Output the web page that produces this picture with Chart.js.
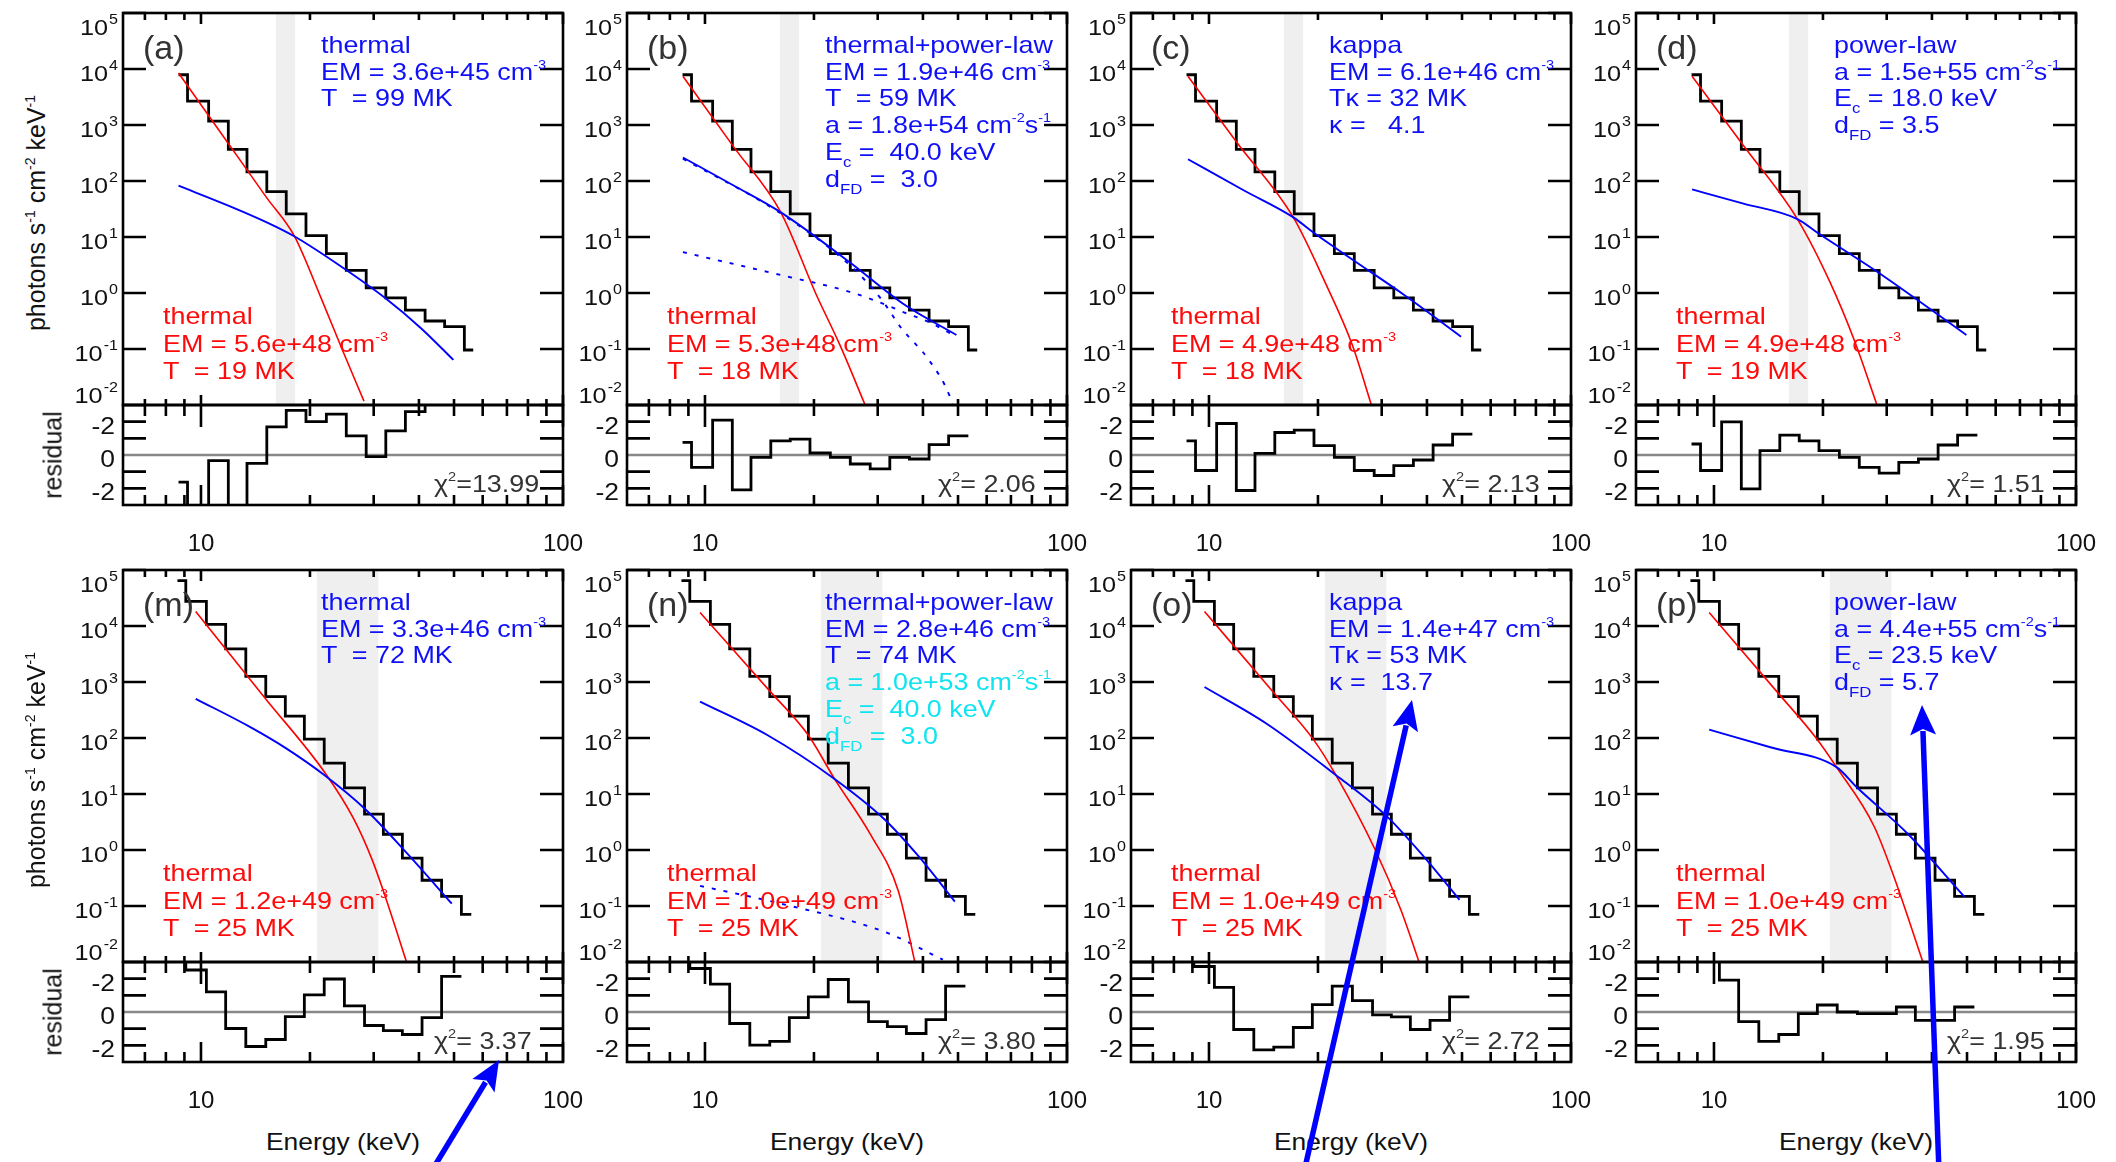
<!DOCTYPE html>
<html>
<head>
<meta charset="utf-8">
<title>Spectral fits</title>
<script src="https://cdn.jsdelivr.net/npm/chart.js@4.4.1/dist/chart.umd.min.js"></script>
<style>
  html, body { margin: 0; padding: 0; background: #fff; }
  #fig { position: relative; width: 2116px; height: 1162px; overflow: hidden; background: #fff;
         font-family: "Liberation Sans", Arial, Helvetica, sans-serif; }
  #fig canvas { position: absolute; }
  .txt { position: absolute; white-space: pre; font-size: 24px; line-height: 27px; transform-origin: 0 0; transform: scaleX(1.12); }
  .sp { font-size: 13px; position: relative; top: -11px; line-height: 0; }
  .sb { font-size: 15px; position: relative; top: 7px; line-height: 0; }
  .lbl { position: absolute; font-size: 34px; line-height: 33px; color: #333; }
  .rot { position: absolute; white-space: pre; font-size: 25px; line-height: 27px; transform: translate(-50%, -50%) rotate(-90deg); }
  .rot .sp { top: -10px; font-size: 14px; }
  .xt { position: absolute; white-space: pre; font-size: 24px; line-height: 27px; transform-origin: 0 0; transform: scaleX(1.1) translateX(-50%); }
  svg { position: absolute; left: 0; top: 0; }
</style>
</head>
<body>
<div id="fig"></div>
<script>
// ---- axes ----
const X_MIN = 6.09, X_MAX = 100;
const X_MAJOR = [10, 100];
const X_MINOR = [7, 8, 9, 20, 30, 40, 50, 60, 70, 80, 90];
const X_LABEL_VALS = [10, 100];
const X_LABELS = ['10', '100'];
const Y_DECADES = [1e-2, 1e-1, 1, 10, 100, 1e3, 1e4, 1e5];
const Y_EXP = ['-2', '-1', '0', '1', '2', '3', '4', '5'];
const RES_TICKS = [-2, -1, 1, 2];
const RES_LABEL_VALS = [2, 0, -2];
const RES_LABELS = ['-2', '0', '-2'];

// ---- observed spectra (bin edges in keV, photons s^-1 cm^-2 keV^-1) ----
const edgesTop = [8.67, 9.18, 10.5, 11.9, 13.4, 15.2, 17.2, 19.5, 22.2, 25.2, 28.6, 32.4, 36.7, 41.6, 47.1, 53.4, 56.5];
const specTop = [7900, 2660, 1175, 368, 146, 64.4, 25.9, 10.6, 5.04, 2.54, 1.23, 0.82, 0.495, 0.316, 0.251, 0.096];
const edgesBot = [8.61, 9.08, 10.35, 11.7, 13.3, 15.1, 17.1, 19.3, 21.9, 24.9, 28.3, 31.9, 36.0, 40.8, 46.2, 52.4, 55.8];
const specBot = [64600, 27500, 10700, 3890, 1260, 550, 245, 95.5, 35.5, 12.9, 4.37, 1.91, 0.716, 0.288, 0.148, 0.0708];
const bandTop = [16.1, 18.2];
const bandBot = [20.9, 30.9];

// ---- model curves and residuals ----
const aRedE = [8.67, 11.9, 15.2, 18.1, 21.5, 24.7, 28.2];
const aRedF = [8510, 468, 50, 10.5, 0.794, 0.0891, 0.0117];
const aBlueE = [8.67, 11.9, 15.3, 18.1, 24.1, 32.4, 40.6, 49.8];
const aBlueF = [82.4, 36.4, 17.9, 10.3, 3.13, 0.798, 0.233, 0.0638];
const aRes = [-1.63, -4, -0.34, -4, -0.5, 1.69, 2.68, 2.0, 2.45, 1.15, -0.1, 1.45, 2.6, 4, 4];

const bRedE = [8.69, 12, 16.2, 20.2, 23.6, 27.7];
const bRedF = [7410, 407, 27.5, 1.0, 0.117, 0.01];
const bBlueE = [8.69, 12, 16.2, 25.1, 35.6, 49.5];
const bBlueF = [263, 83.2, 27.5, 3.55, 0.617, 0.178];
const bThE = [8.69, 16.2, 25.1, 30.6, 34.9, 41.6, 47.4, 48.5];
const bThF = [251, 26.3, 3.16, 0.794, 0.234, 0.063, 0.0145, 0.0089];
const bPlE = [8.69, 16.2, 25.1, 31.3, 35.6, 41.6, 49.5];
const bPlF = [5.37, 2.09, 1.05, 0.631, 0.447, 0.302, 0.166];
const bRes = [0.76, -0.74, 2.09, -2.09, -0.14, 0.85, 0.95, 0.12, -0.14, -0.54, -0.83, -0.14, -0.24, 0.62, 1.15];

const cRedE = [8.75, 12, 17.1, 20.9, 24.9, 28.1];
const cRedF = [7410, 468, 22.4, 1.58, 0.117, 0.01];
const cBlueE = [8.75, 12.5, 17.1, 19.6, 25, 34.7, 49.7];
const cBlueF = [245, 67.6, 22.4, 11.5, 3.89, 0.912, 0.166];
const cRes = [0.85, -0.93, 1.89, -2.13, 0.1, 1.35, 1.49, 0.56, -0.14, -0.93, -1.23, -0.64, -0.3, 0.6, 1.25];

const dRedE = [8.7, 12, 17, 20.9, 24.5, 28.2];
const dRedF = [7410, 447, 20.9, 1.58, 0.135, 0.01];
const dBlueE = [8.7, 12, 17, 19.5, 28.3, 49.8];
const dBlueF = [70.8, 39.8, 20.9, 11.4, 2.37, 0.178];
const dRes = [0.66, -0.93, 1.99, -2.03, 0.26, 1.19, 0.85, 0.26, -0.14, -0.74, -1.09, -0.44, -0.24, 0.6, 1.19];

const mRedE = [9.67, 15, 22.0, 26.4, 29.6, 32.4, 37.1];
const mRedF = [18200, 525, 24, 3.63, 0.708, 0.138, 0.0093];
const mBlueE = [9.67, 13.65, 17.15, 22, 28.3, 37.1, 49.3];
const mBlueF = [501, 158, 66, 21.4, 5.5, 0.87, 0.11];
const mRes = [4, 2.52, 1.21, -0.99, -2.07, -1.65, -0.28, 1.03, 1.98, 0.37, -0.81, -1.12, -1.35, -0.34, 2.14];

const nRedE = [9.69, 15, 19.3, 22.8, 28.7, 34.2, 38.1];
const nRedF = [17400, 724, 112, 18.6, 1.86, 0.186, 0.0093];
const nBlueE = [9.69, 14.9, 22.8, 31.3, 39, 49];
const nBlueF = [447, 112, 18.6, 3.55, 0.76, 0.12];
const nPlE = [9.69, 16.2, 31.3, 45.4];
const nPlF = [0.229, 0.11, 0.0347, 0.011];
const nRes = [4, 2.61, 1.67, -0.69, -1.99, -1.76, -0.34, 0.91, 1.95, 0.61, -0.58, -0.88, -1.29, -0.46, 1.55];

const oRedE = [9.72, 15, 19.4, 22.4, 28.8, 33.9, 38.2];
const oRedF = [18200, 676, 95.5, 21.9, 1.0, 0.0851, 0.0093];
const oBlueE = [9.72, 14.4, 22.4, 31.0, 39, 49.2];
const oBlueF = [813, 182, 21.9, 3.98, 0.79, 0.129];
const oRes = [4, 2.73, 1.48, -1.05, -2.27, -2.11, -0.93, 0.44, 1.55, 0.68, -0.17, -0.29, -1.05, -0.5, 0.91];

const pRedE = [9.70, 15, 19.1, 21.8, 27.7, 31.5, 37.9];
const pRedF = [17400, 646, 102, 30.2, 2.63, 0.316, 0.0093];
const pBlueE = [9.70, 14.4, 21.8, 24.8, 34.4, 49.2];
const pBlueF = [141, 67.6, 30.2, 13.2, 1.91, 0.145];
const pRes = [4, 3.3, 1.91, -0.58, -1.76, -1.35, -0.1, 0.42, 0.0, -0.1, -0.1, 0.3, -0.5, -0.5, 0.3];

// ---- text ----
const sp = s => `<span class="sp">${s}</span>`;
const sb = s => `<span class="sb">${s}</span>`;
const BLUE = '#1010f8', CYAN = '#10e4f0', RED = '#ff0a0a';
const thermalRed = (em, t) => ['thermal', `EM = ${em} cm${sp('-3')}`, `T  = ${t} MK`];

const panels = [
  { label: '(a)', row: 0, col: 0, redE: aRedE, redF: aRedF, blueE: aBlueE, blueF: aBlueF, dotted: [], res: aRes, chi: '=13.99',
    blue: [['thermal', BLUE], [`EM = 3.6e+45 cm${sp('-3')}`, BLUE], ['T  = 99 MK', BLUE]], red: thermalRed('5.6e+48', '19') },
  { label: '(b)', row: 0, col: 1, redE: bRedE, redF: bRedF, blueE: bBlueE, blueF: bBlueF,
    dotted: [[bThE, bThF], [bPlE, bPlF]], res: bRes, chi: '= 2.06',
    blue: [['thermal+power-law', BLUE], [`EM = 1.9e+46 cm${sp('-3')}`, BLUE], ['T  = 59 MK', BLUE],
           [`a = 1.8e+54 cm${sp('-2')}s${sp('-1')}`, BLUE], [`E${sb('c')} =  40.0 keV`, BLUE], [`d${sb('FD')} =  3.0`, BLUE]],
    red: thermalRed('5.3e+48', '18') },
  { label: '(c)', row: 0, col: 2, redE: cRedE, redF: cRedF, blueE: cBlueE, blueF: cBlueF, dotted: [], res: cRes, chi: '= 2.13',
    blue: [['kappa', BLUE], [`EM = 6.1e+46 cm${sp('-3')}`, BLUE], ['T\u03ba = 32 MK', BLUE], ['\u03ba =   4.1', BLUE]],
    red: thermalRed('4.9e+48', '18') },
  { label: '(d)', row: 0, col: 3, redE: dRedE, redF: dRedF, blueE: dBlueE, blueF: dBlueF, dotted: [], res: dRes, chi: '= 1.51',
    blue: [['power-law', BLUE], [`a = 1.5e+55 cm${sp('-2')}s${sp('-1')}`, BLUE], [`E${sb('c')} = 18.0 keV`, BLUE], [`d${sb('FD')} = 3.5`, BLUE]],
    red: thermalRed('4.9e+48', '19') },
  { label: '(m)', row: 1, col: 0, redE: mRedE, redF: mRedF, blueE: mBlueE, blueF: mBlueF, dotted: [], res: mRes, chi: '= 3.37',
    blue: [['thermal', BLUE], [`EM = 3.3e+46 cm${sp('-3')}`, BLUE], ['T  = 72 MK', BLUE]], red: thermalRed('1.2e+49', '25') },
  { label: '(n)', row: 1, col: 1, redE: nRedE, redF: nRedF, blueE: nBlueE, blueF: nBlueF, dotted: [[nPlE, nPlF]], res: nRes, chi: '= 3.80',
    blue: [['thermal+power-law', BLUE], [`EM = 2.8e+46 cm${sp('-3')}`, BLUE], ['T  = 74 MK', BLUE],
           [`a = 1.0e+53 cm${sp('-2')}s${sp('-1')}`, CYAN], [`E${sb('c')} =  40.0 keV`, CYAN], [`d${sb('FD')} =  3.0`, CYAN]],
    red: thermalRed('1.0e+49', '25') },
  { label: '(o)', row: 1, col: 2, redE: oRedE, redF: oRedF, blueE: oBlueE, blueF: oBlueF, dotted: [], res: oRes, chi: '= 2.72',
    blue: [['kappa', BLUE], [`EM = 1.4e+47 cm${sp('-3')}`, BLUE], ['T\u03ba = 53 MK', BLUE], ['\u03ba =  13.7', BLUE]],
    red: thermalRed('1.0e+49', '25') },
  { label: '(p)', row: 1, col: 3, redE: pRedE, redF: pRedF, blueE: pBlueE, blueF: pBlueF, dotted: [], res: pRes, chi: '= 1.95',
    blue: [['power-law', BLUE], [`a = 4.4e+55 cm${sp('-2')}s${sp('-1')}`, BLUE], [`E${sb('c')} = 23.5 keV`, BLUE], [`d${sb('FD')} = 5.7`, BLUE]],
    red: thermalRed('1.0e+49', '25') }
];

// ---- layout ----
const COL_LEFT = [123, 627, 1131, 1636];
const ROW_TOP = [13, 570];
const BOX_W = 440, MAIN_H = 392, RES_H = 100;
const SANS = '"Liberation Sans", Arial, sans-serif';
const fig = document.getElementById('fig');

function wideText(ctx, s, x, y, sx, align) {
  const w = ctx.measureText(s).width * sx;
  let x0 = x;
  if (align === 'right') x0 = x - w;
  else if (align === 'center') x0 = x - w / 2;
  ctx.save();
  ctx.translate(x0, y);
  ctx.scale(sx, 1);
  ctx.textAlign = 'left';
  ctx.fillText(s, 0, 0);
  ctx.restore();
  return w;
}

// IDL-style frame: inward ticks, box, tick labels, shaded band, zero line
const idlFrame = {
  id: 'idlFrame',
  beforeDatasetsDraw(chart, args, o) {
    const { ctx, chartArea: a } = chart;
    const x = chart.scales.x, y = chart.scales.y;
    ctx.save();
    if (o.band) {
      const x0 = x.getPixelForValue(o.band[0]), x1 = x.getPixelForValue(o.band[1]);
      ctx.fillStyle = '#efefef';
      ctx.fillRect(x0, a.top, x1 - x0, a.bottom - a.top);
    }
    if (o.zero) {
      const py = y.getPixelForValue(0);
      ctx.strokeStyle = '#888';
      ctx.lineWidth = 2.6;
      ctx.beginPath();
      ctx.moveTo(a.left, py);
      ctx.lineTo(a.right, py);
      ctx.stroke();
    }
    ctx.restore();
  },
  afterDatasetsDraw(chart, args, o) {
    const { ctx, chartArea: a } = chart;
    const x = chart.scales.x, y = chart.scales.y;
    ctx.save();
    ctx.strokeStyle = '#000';
    ctx.lineWidth = 2.6;
    ctx.beginPath();
    const tickX = (vals, lt, lb) => vals.forEach(v => {
      const px = x.getPixelForValue(v);
      ctx.moveTo(px, a.top); ctx.lineTo(px, a.top + lt);
      ctx.moveTo(px, a.bottom); ctx.lineTo(px, a.bottom - lb);
    });
    tickX(X_MINOR, o.xMinor[0], o.xMinor[1]);
    tickX(X_MAJOR, o.xMajor[0], o.xMajor[1]);
    o.yTicks.forEach(v => {
      const py = y.getPixelForValue(v);
      ctx.moveTo(a.left, py); ctx.lineTo(a.left + 23, py);
      ctx.moveTo(a.right, py); ctx.lineTo(a.right - 23, py);
    });
    ctx.stroke();
    ctx.strokeRect(a.left, a.top, a.right - a.left, a.bottom - a.top);

    ctx.fillStyle = '#111';
    if (o.kind === 'main') {
      Y_DECADES.forEach((v, i) => {
        const py = y.getPixelForValue(v);
        const cy = Math.min(Math.max(py + 4, a.top + 14), a.bottom - 10);
        const xr = a.left - 5;
        ctx.font = '14px ' + SANS;
        const supW = wideText(ctx, Y_EXP[i], xr, cy - 3, 1.15, 'right');
        ctx.font = '22px ' + SANS;
        wideText(ctx, '10', xr - supW - 1, cy + 8, 1.15, 'right');
      });
    } else {
      ctx.font = '23px ' + SANS;
      RES_LABEL_VALS.forEach((v, i) => {
        wideText(ctx, RES_LABELS[i], a.left - 8, y.getPixelForValue(v) + 12, 1.15, 'right');
      });
      ctx.font = '24px ' + SANS;
      X_LABEL_VALS.forEach((v, i) => {
        wideText(ctx, X_LABELS[i], x.getPixelForValue(v), a.bottom + 46, 1.0, 'center');
      });
    }
    ctx.restore();
  }
};

const pts = (xs, ys) => xs.map((v, i) => ({ x: v, y: ys[i] }));
const steps = (edges, vals) => edges.slice(0, vals.length + 1)
  .map((e, i) => ({ x: e, y: vals[Math.min(i, vals.length - 1)] }));

function lineDs(data, color, width, extra) {
  return Object.assign({ data, borderColor: color, borderWidth: width, pointRadius: 0, fill: false, clip: 0 }, extra || {});
}

function makeChart(left, top, w, h, pad, datasets, yScale, frame) {
  const cv = document.createElement('canvas');
  cv.width = w; cv.height = h;
  cv.style.left = left + 'px';
  cv.style.top = top + 'px';
  cv.style.width = w + 'px';
  cv.style.height = h + 'px';
  fig.appendChild(cv);
  return new Chart(cv.getContext('2d'), {
    type: 'line',
    data: { datasets },
    options: {
      responsive: false, animation: false, devicePixelRatio: 1, events: [],
      layout: { padding: pad },
      scales: {
        x: { type: 'logarithmic', min: X_MIN, max: X_MAX, bounds: 'data', display: false },
        y: Object.assign({ display: false, bounds: 'data' }, yScale)
      },
      plugins: { legend: { display: false }, tooltip: { enabled: false }, idlFrame: frame }
    },
    plugins: [idlFrame]
  });
}

function addDiv(cls, left, top, html, color) {
  const d = document.createElement('div');
  d.className = cls;
  d.style.left = left + 'px';
  d.style.top = top + 'px';
  if (color) d.style.color = color;
  d.innerHTML = html;
  fig.appendChild(d);
  return d;
}

panels.forEach(p => {
  const L = COL_LEFT[p.col], T = ROW_TOP[p.row];
  const edges = p.row === 0 ? edgesTop : edgesBot;
  const spec = p.row === 0 ? specTop : specBot;

  const mainSets = [
    lineDs(pts(p.blueE, p.blueF), '#0000ff', 1.9, { cubicInterpolationMode: 'monotone' }),
    lineDs(pts(p.redE, p.redF), '#ff0000', 1.6, { cubicInterpolationMode: 'monotone' })
  ];
  p.dotted.forEach(d => mainSets.push(lineDs(pts(d[0], d[1]), '#0000ff', 1.9,
    { cubicInterpolationMode: 'monotone', borderDash: [4, 8] })));
  mainSets.push(lineDs(steps(edges, spec), '#000', 2.8, { stepped: true }));

  makeChart(L - 72, T - 13, 72 + BOX_W + 8, 13 + MAIN_H + 3,
    { left: 72, top: 13, right: 8, bottom: 3 }, mainSets,
    { type: 'logarithmic', min: 1e-2, max: 1e5 },
    { kind: 'main', band: p.row === 0 ? bandTop : bandBot, yTicks: Y_DECADES, xMinor: [7, 6], xMajor: [11, 10] });

  const rTop = T + MAIN_H;
  makeChart(L - 72, rTop - 3, 72 + BOX_W + 26, 3 + RES_H + 60,
    { left: 72, top: 3, right: 26, bottom: 60 },
    [lineDs(steps(edges, p.res), '#000', 2.8, { stepped: true })],
    { type: 'linear', min: -3, max: 3 },
    { kind: 'res', zero: true, yTicks: RES_TICKS, xMinor: [11, 10], xMajor: [22, 20] });

  // annotations
  addDiv('lbl', L + 20, T + 46 - 28, p.label);
  p.blue.forEach((ln, i) => addDiv('txt', L + 198, T + 39.5 + i * 26.8 - 21.8, ln[0], ln[1]));
  p.red.forEach((ln, i) => addDiv('txt', L + 40, T + 311 + i * 27.5 - 21.8, ln, RED));
  addDiv('txt', L + 311, rTop + RES_H - 13 - 21.8, '\u03c7' + sp('2') + p.chi, '#333');

  if (p.col === 0) {
    addDiv('rot', 36, T + 200, `photons s${sp('-1')} cm${sp('-2')} keV${sp('-1')}`, '#111');
    addDiv('rot', 53, rTop + 50, 'residual', '#111');
  }
  if (p.row === 1) addDiv('xt', L + BOX_W / 2, 1150 - 21.8, 'Energy (keV)', '#111');
});

// blue annotation arrows
const svgNS = 'http://www.w3.org/2000/svg';
const svg = document.createElementNS(svgNS, 'svg');
svg.setAttribute('width', 2116);
svg.setAttribute('height', 1162);
const arrows = [
  [[431, 1172], [499, 1060]],
  [[1304, 1172], [1412, 700]],
  [[1939, 1172], [1922, 705]]
];
arrows.forEach(([b, t]) => {
  const dx = t[0] - b[0], dy = t[1] - b[1];
  const len = Math.hypot(dx, dy), ux = dx / len, uy = dy / len;
  const hx = t[0] - 30 * ux, hy = t[1] - 30 * uy;
  const line = document.createElementNS(svgNS, 'line');
  line.setAttribute('x1', b[0]); line.setAttribute('y1', b[1]);
  line.setAttribute('x2', hx + 4 * ux); line.setAttribute('y2', hy + 4 * uy);
  line.setAttribute('stroke', '#0000ff'); line.setAttribute('stroke-width', 5.5);
  svg.appendChild(line);
  const head = document.createElementNS(svgNS, 'polygon');
  head.setAttribute('points', [
    [t[0], t[1]],
    [hx - 13 * uy, hy + 13 * ux],
    [hx + 6 * ux, hy + 6 * uy],
    [hx + 13 * uy, hy - 13 * ux]
  ].map(q => q.join(',')).join(' '));
  head.setAttribute('fill', '#0000ff');
  svg.appendChild(head);
});
fig.appendChild(svg);
</script>
</body>
</html>
